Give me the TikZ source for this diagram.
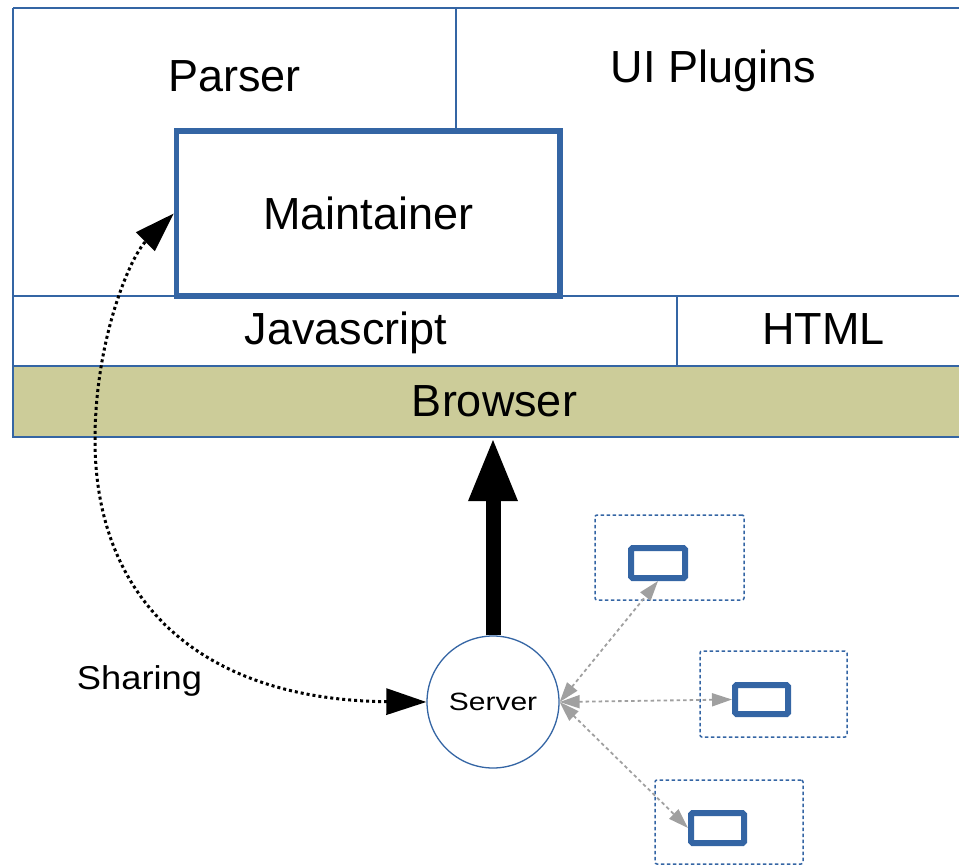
\documentclass[tikz,border=0pt]{standalone}
\usepackage{fontspec}
\setmainfont{Liberation Sans}
\usetikzlibrary{arrows.meta}
\definecolor{lblue}{RGB}{52,101,164}
\definecolor{browserfill}{RGB}{204,204,153}
\definecolor{lgray}{RGB}{160,160,160}
\tikzset{
  thinline/.style={draw=lblue, line width=1.3pt},
  biglabel/.style={anchor=base, inner sep=0pt, font=\fontsize{45}{50}\selectfont},
  maintbox/.style={draw=lblue, line width=5.5pt, rectangle, inner sep=0pt,
     minimum width=383.5pt, minimum height=165pt, font=\fontsize{45}{50}\selectfont},
  serverc/.style={draw=lblue, line width=1.3pt, circle, fill=white, inner sep=0pt,
     minimum size=132pt},
  container/.style={draw=lblue, line width=1.5pt, dash pattern=on 3.5pt off 2.5pt,
     rounded corners=2pt, rectangle, inner sep=0pt},
  device/.style={draw=lblue, line width=6pt, rounded corners=1.5pt, rectangle,
     fill=white, inner sep=0pt},
  sharing/.style={draw=black, line width=3pt, dash pattern=on 3pt off 3pt,
     {Triangle[length=40pt,width=26pt]}-{Triangle[length=40pt,width=26pt]}},
  pusharrow/.style={draw=black, line width=15pt, -{Triangle[length=64pt,width=45pt]}},
  garrow/.style={draw=lgray, line width=1.8pt, dash pattern=on 3.5pt off 3pt,
     {Triangle[length=20pt,width=13pt]}-{Triangle[length=20pt,width=13pt]}}
}
\begin{document}
\begin{tikzpicture}[x=1pt,y=-1pt]
\useasboundingbox (0,0) rectangle (959,866);
\clip (0,0) rectangle (959,866);

% browser band
\path[fill=browserfill, draw=lblue, line width=1.3pt] (13,366) rectangle (975,437);
\node[inner sep=0pt, minimum width=962pt, minimum height=71pt] (browser) at (494,401.5) {};

% layer lines
\draw[thinline] (13,8) -- (975,8);
\draw[thinline] (13,8) -- (13,437);
\draw[thinline] (456,8) -- (456,131);
\draw[thinline] (13,296) -- (975,296);
\draw[thinline] (677,296) -- (677,366);

% labels
\node[biglabel] (parser) at (234.5,92) {Parser};
\node[biglabel] (uiplugins) at (713.5,83) {UI Plugins};
\node[biglabel] (javascript) at (346,345) {Javascript};
\node[biglabel] (html) at (823.5,345) {HTML};
\node[biglabel] (browserlabel) at (494.5,417) {Browser};

% maintainer
\node[maintbox] (maint) at (368.25,213.5) {Maintainer};

% server
\node[serverc] (server) at (493,702) {\fontsize{25}{28}\selectfont\scalebox{1.2}[1]{Server}};

% push arrow
\draw[pusharrow] (server.north) -- (server.north |- browser.south);

% sharing arrow
\draw[sharing] (server.west) .. controls (200,700) and (95,600) .. (95,440)
   .. controls (95,340) and (130,257) .. (maint.west);
\node[anchor=base, inner sep=0pt] (sharinglabel) at (139.5,689)
   {\fontsize{33}{36}\selectfont\scalebox{1.1}[1]{Sharing}};

% clients
\node[container, minimum width=149pt, minimum height=85pt] (c1) at (669.5,557.5) {};
\node[container, minimum width=147pt, minimum height=86pt] (c2) at (773.5,694) {};
\node[container, minimum width=148pt, minimum height=84pt] (c3) at (729,822) {};
\node[device, minimum width=54pt, minimum height=30pt] (dev1) at (658,563) {};
\node[device, minimum width=53pt, minimum height=29pt] (dev2) at (761.5,699.5) {};
\node[device, minimum width=53pt, minimum height=30pt] (dev3) at (717.5,828) {};

\draw[garrow] (server.east) -- (dev1.south);
\draw[garrow] (server.east) -- (dev2.west);
\draw[garrow] (server.east) -- (dev3.west);
\end{tikzpicture}
\end{document}
